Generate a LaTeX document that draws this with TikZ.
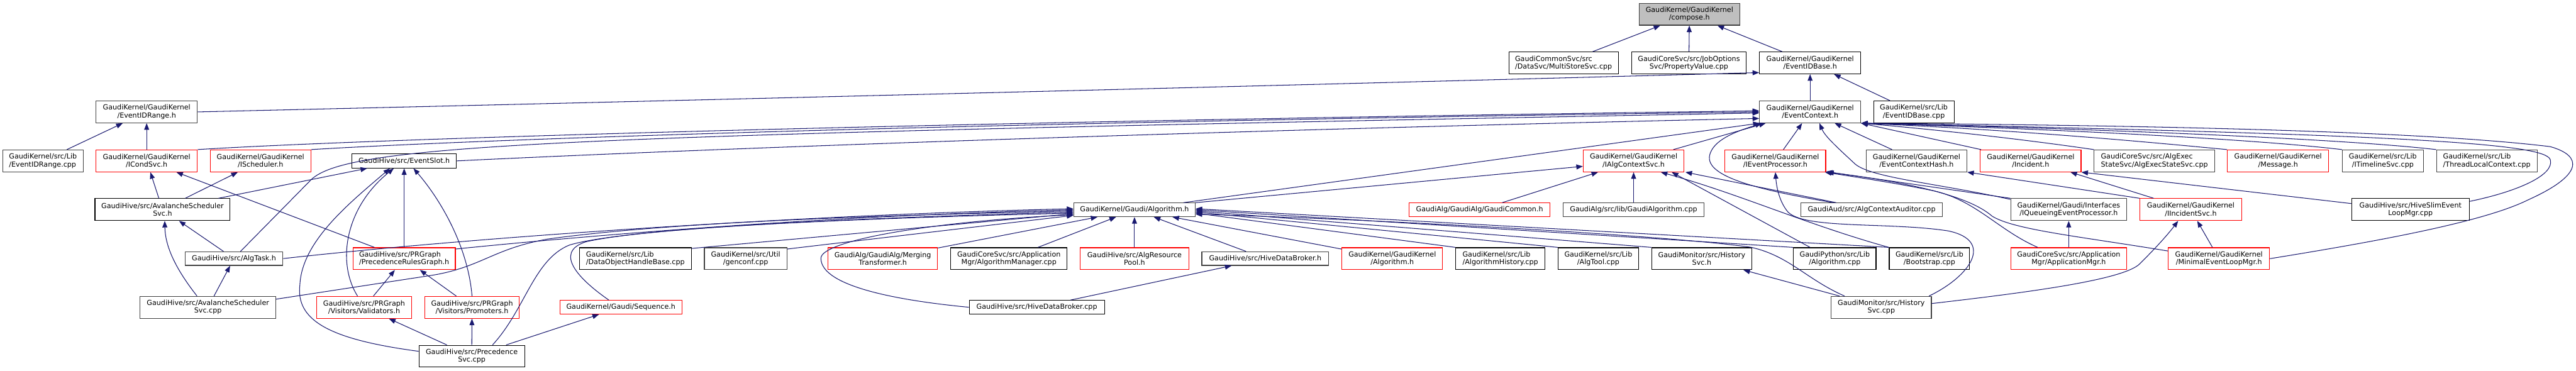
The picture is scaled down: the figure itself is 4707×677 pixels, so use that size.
\documentclass[tikz,border=0pt]{standalone}
\usepackage{fontspec}
\setmainfont{DejaVu Sans}
\usetikzlibrary{arrows.meta,calc}
\definecolor{edgec}{HTML}{191970}
\definecolor{boxgrey}{HTML}{404040}
\definecolor{rootfill}{HTML}{BFBFBF}
\definecolor{redc}{HTML}{FF0000}
\newcommand\ndfont{\fontsize{12.8}{14}\selectfont}
\begin{document}
\begin{tikzpicture}[x=1pt,y=-1pt,
  box/.style={draw=black, line width=1.3pt, fill=white, inner sep=0pt, align=center, font=\ndfont},
  two/.style={minimum height=40pt},
  one/.style={minimum height=25pt},
  redbox/.style={draw=redc},
  greybox/.style={draw=boxgrey},
  dep/.style={draw=edgec, line width=1.2pt, -{Triangle[length=12pt,width=9pt]}}]
\useasboundingbox (0,0) rectangle (4707,677);
\fill[white] (0,0) rectangle (4707,677);
% row 1
\node[box,two,greybox,fill=rootfill,minimum width=184pt] (compose) at (3087,26) {GaudiKernel/GaudiKernel\\/compose.h};
% row 2
\node[box,two,align=left,minimum width=200pt] (multistore) at (2857,115) {GaudiCommonSvc/src\\/DataSvc/MultiStoreSvc.cpp};
\node[box,two,minimum width=210pt] (propval) at (3086,115) {GaudiCoreSvc/src/JobOptions\\Svc/PropertyValue.cpp};
\node[box,two,minimum width=185pt] (eidbaseh) at (3307.5,115) {GaudiKernel/GaudiKernel\\/EventIDBase.h};
% row 3
\node[box,two,greybox,minimum width=185pt] (eidrangeh) at (268,204.5) {GaudiKernel/GaudiKernel\\/EventIDRange.h};
\node[box,two,greybox,minimum width=185pt] (evctx) at (3307.5,204.5) {GaudiKernel/GaudiKernel\\/EventContext.h};
\node[box,two,minimum width=147pt] (eidbasecpp) at (3497,204.5) {GaudiKernel/src/Lib\\/EventIDBase.cpp};
% row 4
\node[box,two,greybox,align=left,minimum width=147pt] (eidrangecpp) at (78.5,294) {GaudiKernel/src/Lib\\/EventIDRange.cpp};
\node[box,two,redbox,minimum width=185pt] (icond) at (268,294) {GaudiKernel/GaudiKernel\\/ICondSvc.h};
\node[box,two,redbox,minimum width=184pt] (isched) at (476,294) {GaudiKernel/GaudiKernel\\/IScheduler.h};
\node[box,minimum height=26pt,minimum width=191pt] (evslot) at (738.5,294) {GaudiHive/src/EventSlot.h};
\node[box,two,redbox,minimum width=184pt] (ialgctx) at (2985,294) {GaudiKernel/GaudiKernel\\/IAlgContextSvc.h};
\node[box,two,redbox,minimum width=184pt] (ievproc) at (3244,294) {GaudiKernel/GaudiKernel\\/IEventProcessor.h};
\node[box,two,greybox,minimum width=184pt] (evctxhash) at (3502,294) {GaudiKernel/GaudiKernel\\/EventContextHash.h};
\node[box,two,redbox,minimum width=184pt] (incident) at (3710.5,294) {GaudiKernel/GaudiKernel\\/Incident.h};
\node[box,two,greybox,align=left,minimum width=220pt] (algexec) at (3936.6,294) {GaudiCoreSvc/src/AlgExec\\StateSvc/AlgExecStateSvc.cpp};
\node[box,two,redbox,minimum width=185pt] (message) at (4162.5,294) {GaudiKernel/GaudiKernel\\/Message.h};
\node[box,two,greybox,minimum width=148pt] (itimeline) at (4354,294) {GaudiKernel/src/Lib\\/ITimelineSvc.cpp};
\node[box,two,greybox,align=left,minimum width=184pt] (threadlocal) at (4544,294) {GaudiKernel/src/Lib\\/ThreadLocalContext.cpp};
% row 5
\node[box,two,minimum width=247pt] (avalh) at (297,383) {GaudiHive/src/AvalancheScheduler\\Svc.h};
\node[box,one,greybox,minimum width=222pt] (galg) at (2073,383.5) {GaudiKernel/Gaudi/Algorithm.h};
\node[box,one,redbox,minimum width=257pt] (gcommon) at (2703.5,383.5) {GaudiAlg/GaudiAlg/GaudiCommon.h};
\node[box,one,greybox,minimum width=258pt] (galgcpp) at (2985,383.5) {GaudiAlg/src/lib/GaudiAlgorithm.cpp};
\node[box,one,greybox,minimum width=258pt] (actxaud) at (3420,383.5) {GaudiAud/src/AlgContextAuditor.cpp};
\node[box,two,greybox,minimum width=212pt] (iqueue) at (3780,383) {GaudiKernel/Gaudi/Interfaces\\/IQueueingEventProcessor.h};
\node[box,two,redbox,minimum width=186pt] (iincsvc) at (4003,383) {GaudiKernel/GaudiKernel\\/IIncidentSvc.h};
\node[box,two,minimum width=215pt] (hiveslim) at (4404.5,383) {GaudiHive/src/HiveSlimEvent\\LoopMgr.cpp};
% row 6
\node[box,one,greybox,minimum width=179pt] (algtask) at (427.5,472.5) {GaudiHive/src/AlgTask.h};
\node[box,two,redbox,align=left,minimum width=187pt] (prg) at (738.5,472.7) {GaudiHive/src/PRGraph\\/PrecedenceRulesGraph.h};
\node[box,two,align=left,minimum width=204pt] (dohb) at (1161,472.7) {GaudiKernel/src/Lib\\/DataObjectHandleBase.cpp};
\node[box,two,greybox,minimum width=151pt] (genconf) at (1362.5,472.7) {GaudiKernel/src/Util\\/genconf.cpp};
\node[box,two,redbox,minimum width=200pt] (merging) at (1613,472.7) {GaudiAlg/GaudiAlg/Merging\\Transformer.h};
\node[box,two,minimum width=213pt] (algmgr) at (1843.5,472.7) {GaudiCoreSvc/src/Application\\Mgr/AlgorithmManager.cpp};
\node[box,two,redbox,minimum width=198pt] (algres) at (2073,472.7) {GaudiHive/src/AlgResource\\Pool.h};
\node[box,one,greybox,minimum width=232pt] (hdbh) at (2312,472.5) {GaudiHive/src/HiveDataBroker.h};
\node[box,two,redbox,minimum width=184pt] (kalgh) at (2544,472.7) {GaudiKernel/GaudiKernel\\/Algorithm.h};
\node[box,two,align=left,minimum width=163pt] (alghist) at (2741.5,472.7) {GaudiKernel/src/Lib\\/AlgorithmHistory.cpp};
\node[box,two,minimum width=147pt] (algtool) at (2920.5,472.7) {GaudiKernel/src/Lib\\/AlgTool.cpp};
\node[box,two,minimum width=183pt] (histh) at (3109.5,472.7) {GaudiMonitor/src/History\\Svc.h};
\node[box,two,minimum width=151pt] (pyalg) at (3352.5,472.7) {GaudiPython/src/Lib\\/Algorithm.cpp};
\node[box,two,minimum width=147pt] (bootstrap) at (3525.5,472.7) {GaudiKernel/src/Lib\\/Bootstrap.cpp};
\node[box,two,redbox,minimum width=212pt] (appmgrh) at (3780,472.7) {GaudiCoreSvc/src/Application\\Mgr/ApplicationMgr.h};
\node[box,two,redbox,minimum width=185pt] (minimal) at (4054.5,472.7) {GaudiKernel/GaudiKernel\\/MinimalEventLoopMgr.h};
% row 7
\node[box,two,greybox,minimum width=248pt] (avalcpp) at (380,561.7) {GaudiHive/src/AvalancheScheduler\\Svc.cpp};
\node[box,two,redbox,minimum width=173pt] (valid) at (665.3,561.7) {GaudiHive/src/PRGraph\\/Visitors/Validators.h};
\node[box,two,redbox,minimum width=173pt] (promo) at (862.5,561.7) {GaudiHive/src/PRGraph\\/Visitors/Promoters.h};
\node[box,one,redbox,minimum width=223pt] (seq) at (1134.5,561.5) {GaudiKernel/Gaudi/Sequence.h};
\node[box,one,minimum width=247pt] (hdbcpp) at (1894.5,561.5) {GaudiHive/src/HiveDataBroker.cpp};
\node[box,two,greybox,minimum width=183pt] (histcpp) at (3437.5,561.7) {GaudiMonitor/src/History\\Svc.cpp};
% row 8
\node[box,two,minimum width=193pt] (precsvc) at (862,651) {GaudiHive/src/Precedence\\Svc.cpp};

% ---------------- edges
% compose
\draw[dep] (multistore) -- (compose);
\draw[dep] (propval) -- (compose);
\draw[dep] (eidbaseh) -- (compose);
% EventIDBase.h
\draw[dep] (evctx) -- (eidbaseh);
\draw[dep] (eidbasecpp) -- (eidbaseh);
\draw[dep] (eidrangeh.east) .. controls (1200,185) and (2400,155) .. ($(eidbaseh.south west)+(0,-3)$);
% EventIDRange.h
\draw[dep] (eidrangecpp) -- (eidrangeh);
\draw[dep] (icond) -- (eidrangeh);
% EventContext, left side
\draw[dep] (icond.north east) .. controls (600,258) and (1500,226) .. ($(evctx.west)+(0,-2)$);
\draw[dep] (isched.north east) .. controls (750,262) and (1500,228) .. (evctx.west);
\draw[dep] ($(algtask.north)+(12,0)$) -- (565,332) .. controls (625,262) and (1000,248) .. ($(evctx.west)+(0,2)$);
\draw[dep] (evslot.east) .. controls (1500,262) and (2500,232) .. ($(evctx.west)+(0,12)$);
% EventContext, bottom and right
\draw[dep] (galg.north east) ++(-22,0) -- ($(evctx.south west)+(1,0)$);
\draw[dep] ($(ialgctx.north east)+(-20,0)$) -- ($(evctx.south west)+(12,0)$);
\draw[dep] ($(actxaud.north)+(-70,0)$) .. controls (3200,345) and (3110,320) .. (3125,280) .. controls (3135,252) and (3180,238) .. ($(evctx.south west)+(5,0)$);
\draw[dep] (ievproc) -- (evctx);
\draw[dep] ($(iqueue.north west)+(0,2)$) .. controls (3540,335) and (3420,325) .. (3390,300) .. controls (3360,272) and (3335,250) .. ($(evctx.south)+(17,0)$);
\draw[dep] (evctxhash) -- (evctx);
\draw[dep] ($(incident.north west)+(2,0)$) -- (evctx.south east);
\draw[dep] (algexec.north west) .. controls (3700,255) and (3550,238) .. (evctx.south east);
\draw[dep] (message.north west) .. controls (3950,262) and (3700,238) .. (evctx.south east);
\draw[dep] (itimeline.north west) .. controls (4100,252) and (3700,234) .. (evctx.south east);
\draw[dep] (threadlocal.north west) .. controls (4250,250) and (3700,232) .. (evctx.south east);
\draw[dep] (minimal.east) .. controls (4350,440) and (4540,405) .. (4620,365) .. controls (4720,320) and (4720,285) .. (4660,268) .. controls (4400,236) and (3800,228) .. (evctx.south east);
\draw[dep] ($(hiveslim.east)+(0,-15)$) .. controls (4600,350) and (4668,320) .. (4660,292) .. controls (4652,262) and (4400,246) .. (evctx.south east);
% IAlgContextSvc
\draw[dep] (galg.north east) -- ($(ialgctx.west)+(0,10)$);
\draw[dep] (gcommon) -- (ialgctx);
\draw[dep] (galgcpp) -- (ialgctx);
\draw[dep] ($(pyalg.north)+(-45,0)$) -- ($(ialgctx.south east)+(-23,0)$);
\draw[dep] ($(actxaud.north)+(-65,0)$) -- ($(ialgctx.south east)+(2,0)$);
\draw[dep] (bootstrap.north west) .. controls (3300,410) and (3180,355) .. ($(ialgctx.south east)+(-43,0)$);
% IEventProcessor
\draw[dep] ($(histcpp.north east)+(-5,0)$) .. controls (3600,505) and (3645,440) .. (3560,422) .. controls (3450,405) and (3290,420) .. (3265,385) .. controls (3250,365) and (3246,340) .. (ievproc.south);
\draw[dep] ($(appmgrh.north west)+(50,0)$) .. controls (3650,420) and (3610,365) .. (3530,348) .. controls (3450,332) and (3380,322) .. ($(ievproc.south east)+(-2,0)$);
\draw[dep] (iqueue.north west) -- ($(ievproc.south east)+(0,-1)$);
\draw[dep] ($(minimal.west)+(0,-14)$) .. controls (3800,432) and (3680,420) .. (3640,395) .. controls (3600,360) and (3500,335) .. ($(ievproc.south east)+(2,0)$);
% Incident / IIncidentSvc
\draw[dep] ($(iincsvc.north west)+(26,0)$) -- ($(incident.south east)+(-20,0)$);
\draw[dep] (iincsvc.north west) -- (evctxhash.south east);
\draw[dep] ($(hiveslim.west)+(0,-11)$) -- (incident.south east);
\draw[dep] (appmgrh) -- (iqueue);
\draw[dep] (minimal) -- (iincsvc);
\draw[dep] ($(histcpp.east)+(0,-7)$) .. controls (3700,535) and (3880,512) .. (3910,482) .. controls (3940,452) and (3960,430) .. ($(iincsvc.south)+(-23,0)$);
\draw[dep] (histcpp) -- (histh);
% Gaudi/Algorithm.h, left side
\draw[dep] (algtask.east) .. controls (900,430) and (1500,392) .. ($(galg.west)+(0,-2)$);
\draw[dep] ($(prg.north east)+(0,3)$) .. controls (1200,418) and (1600,392) .. ($(galg.west)+(0,0)$);
\draw[dep] ($(avalcpp.east)+(0,-15)$) -- (790,503) .. controls (880,488) and (900,455) .. (1000,437) .. controls (1250,402) and (1700,392) .. ($(galg.west)+(0,2)$);
\draw[dep] ($(precsvc.north)+(38,0)$) .. controls (960,565) and (975,475) .. (1040,448) .. controls (1150,414) and (1650,396) .. ($(galg.west)+(0,4)$);
\draw[dep] ($(seq.north)+(-22,0)$) .. controls (1060,512) and (1010,462) .. (1070,442) .. controls (1200,412) and (1650,397) .. ($(galg.west)+(0,6)$);
\draw[dep] ($(dohb.north east)+(0,2)$) -- ($(galg.west)+(0,7)$);
\draw[dep] ($(genconf.north east)+(0,3)$) -- ($(galg.south west)+(0,-3)$);
\draw[dep] (hdbcpp.west) .. controls (1650,550) and (1500,525) .. (1500,472) .. controls (1500,440) and (1700,405) .. ($(galg.west)+(0,9)$);
\draw[dep] (merging) -- (galg);
\draw[dep] (algmgr) -- (galg);
\draw[dep] (algres) -- (galg);
\draw[dep] (hdbh) -- (galg);
\draw[dep] (hdbcpp) -- (hdbh);
% Gaudi/Algorithm.h, right side
\draw[dep] (kalgh) -- (galg);
\draw[dep] (alghist.north west) -- ($(galg.east)+(0,6)$);
\draw[dep] (algtool.north west) -- ($(galg.east)+(0,4)$);
\draw[dep] (histh.north west) -- ($(galg.east)+(0,2)$);
\draw[dep] (pyalg.north west) -- ($(galg.east)+(0,0)$);
\draw[dep] (bootstrap.north west) -- ($(galg.east)+(0,-2)$);
\draw[dep] ($(histcpp.north)+(-67,0)$) .. controls (3300,510) and (3270,468) .. (3200,452) .. controls (3050,430) and (2500,400) .. ($(galg.east)+(0,8)$);
% Avalanche / PRGraph group
\draw[dep] (avalh) -- (icond);
\draw[dep] (avalh) -- (isched);
\draw[dep] (avalh) -- (evslot);
\draw[dep] (prg) -- (icond);
\draw[dep] (algtask) -- (avalh);
\draw[dep] ($(avalcpp.north)+(-20,0)$) .. controls (320,490) and (302,450) .. ($(avalh.south)+(4,0)$);
\draw[dep] (avalcpp) -- (algtask);
\draw[dep] ($(precsvc.west)+(0,-9)$) .. controls (600,620) and (540,585) .. (548,520) .. controls (552,440) and (640,370) .. ($(evslot.south)+(-26,0)$);
\draw[dep] ($(valid.north)+(-12,0)$) .. controls (615,480) and (630,380) .. ($(evslot.south)+(-19,0)$);
\draw[dep] (prg) -- (evslot);
\draw[dep] (promo.north) .. controls (855,450) and (805,365) .. ($(evslot.south)+(17,0)$);
\draw[dep] (valid) -- (prg);
\draw[dep] (promo) -- (prg);
\draw[dep] (precsvc) -- (valid);
\draw[dep] (precsvc) -- (promo);
\draw[dep] (precsvc) -- (seq);
\end{tikzpicture}
\end{document}
